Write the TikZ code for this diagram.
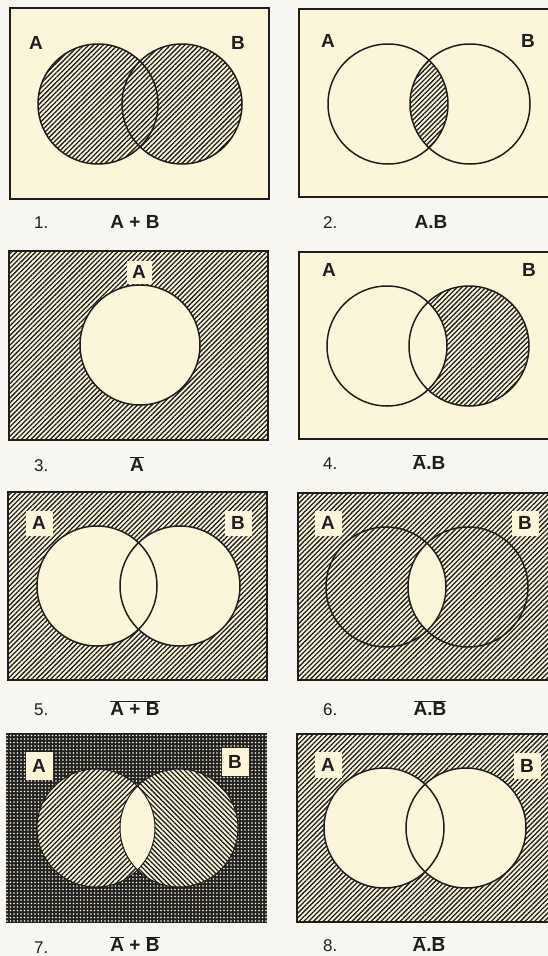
\documentclass[tikz,border=0pt]{standalone}
\usepackage{fontspec}
\setmainfont{Liberation Sans}
\usetikzlibrary{patterns.meta}
\definecolor{cream}{HTML}{FBF6DA}
\definecolor{paper}{HTML}{F7F6F1}
\definecolor{ink}{HTML}{1E1E1E}
\definecolor{darkbg}{HTML}{222222}
\newcommand\ovb[1]{$\overline{\mbox{\bfseries #1}}$}
\tikzset{
  frame/.style={draw=ink, line width=1.5pt},
  hatchne/.style={pattern={Lines[angle=45,distance=3.4pt,line width=1.3pt]}, pattern color=ink},
  hatchnw/.style={pattern={Lines[angle=-45,distance=3.4pt,line width=1.3pt]}, pattern color=ink},
  dots/.style={pattern={Dots[radius=0.95pt,distance=3.5pt]}, pattern color=cream},
  ring/.style={draw=ink, line width=1.5pt},
  lab/.style={font=\bfseries\fontsize{19}{19}\selectfont, text=ink, inner sep=0pt},
  labbox/.style={lab, fill=cream, minimum width=27pt, minimum height=25pt},
  num/.style={font=\fontsize{17}{17}\selectfont, text=ink, anchor=west, inner sep=0pt},
  capt/.style={font=\bfseries\fontsize{19}{19}\selectfont, text=ink, inner sep=0pt}
}
\begin{document}
\begin{tikzpicture}[x=1pt,y=-1pt]
\useasboundingbox (0,0) rectangle (548,956);
\clip (0,0) rectangle (548,956);
\fill[paper] (0,0) rectangle (548,956);
\def\R{60}

% ---------- Panel 1 : A + B
\fill[cream] (10,8) rectangle (269,199);
\fill[hatchne] (98,104) circle (\R) (182,104) circle (\R);
\draw[ring] (98,104) circle (\R) (182,104) circle (\R);
\draw[frame] (10,8) rectangle (269,199);
\node[lab] (p1A) at (36,43) {A};
\node[lab] (p1B) at (238,43) {B};
\node[num] (p1n) at (34,223) {1.};
\node[capt] (p1c) at (135,222) {A + B};

% ---------- Panel 2 : A.B
\fill[cream] (299,9) rectangle (562,197);
\begin{scope}
  \clip (388,104) circle (\R);
  \fill[hatchne] (470,104) circle (\R);
\end{scope}
\draw[ring] (388,104) circle (\R) (470,104) circle (\R);
\draw[frame] (299,9) rectangle (562,197);
\node[lab] (p2A) at (328,41) {A};
\node[lab] (p2B) at (528,41) {B};
\node[num] (p2n) at (323,223) {2.};
\node[capt] (p2c) at (431,222) {A.B};

% ---------- Panel 3 : not A
\fill[cream] (9,251) rectangle (268,440);
\fill[hatchne, even odd rule] (9,251) rectangle (268,440) (140,345) circle (\R);
\draw[ring] (140,345) circle (\R);
\draw[frame] (9,251) rectangle (268,440);
\node[labbox, minimum width=25pt, minimum height=23pt] (p3A) at (139,272) {A};
\node[num] (p3n) at (34,466) {3.};
\node[capt] (p3c) at (137,464) {\ovb{A}};

% ---------- Panel 4 : not A . B
\fill[cream] (299,252) rectangle (562,439);
\begin{scope}
  \clip (469,346) circle (\R);
  \fill[hatchne, even odd rule] (299,252) rectangle (562,439) (387,346) circle (\R);
\end{scope}
\draw[ring] (387,346) circle (\R) (469,346) circle (\R);
\draw[frame] (299,252) rectangle (562,439);
\node[lab] (p4A) at (329,270) {A};
\node[lab] (p4B) at (529,270) {B};
\node[num] (p4n) at (323,464) {4.};
\node[capt] (p4c) at (429,462) {\ovb{A}.B};

% ---------- Panel 5 : not (A + B)
\fill[cream] (8,492) rectangle (267,680);
\fill[hatchne] (8,492) rectangle (267,680);
\fill[cream] (97,586) circle (\R) (180,586) circle (\R);
\draw[ring] (97,586) circle (\R) (180,586) circle (\R);
\draw[frame] (8,492) rectangle (267,680);
\node[labbox] (p5A) at (39,523) {A};
\node[labbox] (p5B) at (238,523) {B};
\node[num] (p5n) at (34,710) {5.};
\node[capt] (p5c) at (135,708) {\ovb{A + B}};

% ---------- Panel 6 : not (A.B)
\fill[cream] (298,493) rectangle (562,680);
\fill[hatchne] (298,493) rectangle (562,680);
\begin{scope}
  \clip (386,587) circle (\R);
  \fill[cream] (468,587) circle (\R);
\end{scope}
\draw[ring] (386,587) circle (\R) (468,587) circle (\R);
\draw[frame] (298,493) rectangle (562,680);
\node[labbox] (p6A) at (328,523) {A};
\node[labbox] (p6B) at (525,523) {B};
\node[num] (p6n) at (323,710) {6.};
\node[capt] (p6c) at (430,708) {\ovb{A.B}};

% ---------- Panel 7 : not A + not B
\fill[darkbg] (6,733) rectangle (267,923);
\fill[dots] (6,733) rectangle (267,923);
\fill[cream] (96,828) circle (59) (179,828) circle (59);
\begin{scope}
  \clip (96,828) circle (59);
  \fill[hatchne, even odd rule] (6,733) rectangle (267,923) (179,828) circle (59);
\end{scope}
\begin{scope}
  \clip (179,828) circle (59);
  \fill[hatchnw, even odd rule] (6,733) rectangle (267,923) (96,828) circle (59);
\end{scope}
\draw[ink, line width=1pt] (96,828) circle (59) (179,828) circle (59);
\node[labbox, minimum height=28pt] (p7A) at (39,766) {A};
\node[labbox, minimum height=28pt] (p7B) at (235,762) {B};
\node[num] (p7n) at (34,948) {7.};
\node[capt] (p7c) at (135,944) {\ovb{A} + \ovb{B}};

% ---------- Panel 8 : not A . not B
\fill[cream] (297,734) rectangle (562,922);
\fill[hatchne] (297,734) rectangle (562,922);
\fill[cream] (384,828) circle (\R) (466,828) circle (\R);
\draw[ring] (384,828) circle (\R) (466,828) circle (\R);
\draw[frame] (297,734) rectangle (562,922);
\node[labbox, minimum height=26pt] (p8A) at (328,765) {A};
\node[labbox, minimum height=26pt] (p8B) at (527,766) {B};
\node[num] (p8n) at (323,946) {8.};
\node[capt] (p8c) at (429,944) {\ovb{A}.\ovb{B}};
\end{tikzpicture}
\end{document}
